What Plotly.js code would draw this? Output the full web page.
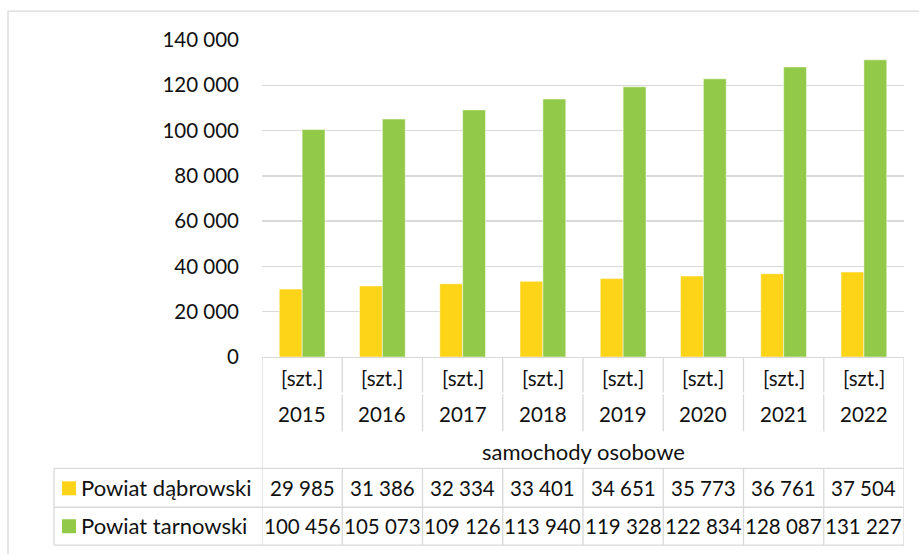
<!DOCTYPE html>
<html>
<head>
<meta charset="utf-8">
<script src="https://cdn.plot.ly/plotly-3.0.1.min.js"></script>
<style>html,body{margin:0;padding:0;background:#fff;}#chart{width:919px;height:554px;}</style>
</head>
<body>
<div id="chart"></div>
<script>
// ---- data ----
var years = ['2015','2016','2017','2018','2019','2020','2021','2022'];
var unitLabel = '[szt.]';
var groupLabel = 'samochody osobowe';
var seriesNames = ['Powiat dąbrowski', 'Powiat tarnowski'];
var dabrowski = [29985, 31386, 32334, 33401, 34651, 35773, 36761, 37504];
var tarnowski = [100456, 105073, 109126, 113940, 119328, 122834, 128087, 131227];
var yTicks = [0, 20000, 40000, 60000, 80000, 100000, 120000, 140000];

// ---- style / geometry ----
var W = 919, H = 554;
var L = 262, R = 904, T = 40, B = 357.5;
var PW = R - L, PH = B - T;
var colors = ['#FED419', '#93C948'];
var grid = '#D9D9D9';
var txt = '#111111';
var FONT = 'Lato, "Noto Sans", sans-serif';
var FS = 20.5;   // numbers
var FSW = 22;    // words

function px(x) { return (x - L) / PW; }
function py(y) { return (B - y) / PH; }
function fmt(v) { return String(v).replace(/\B(?=(\d{3})+(?!\d))/g, ' '); }

var n = years.length;
var traces = [
  {type:'bar', x: years, y: dabrowski, name: seriesNames[0],
   marker:{color: colors[0], line:{color:'rgba(255,255,255,0.6)', width:0.8}}},
  {type:'bar', x: years, y: tarnowski, name: seriesNames[1],
   marker:{color: colors[1], line:{color:'rgba(255,255,255,0.6)', width:0.8}}}
];

var shapes = [];
var ann = [];
var lineStyle = {color: grid, width: 1.3};

// outer chart border
shapes.push({type:'rect', xref:'paper', yref:'paper', x0: px(8), x1: px(W + 5), y0: py(11), y1: py(H + 5),
  line:{color: grid, width: 1.3}, fillcolor:'rgba(0,0,0,0)', layer:'below'});

// table vertical lines
for (var i = 0; i <= n; i++) {
  var xv = i - 0.5;
  var outer = (i === 0 || i === n);
  if (outer) {
    shapes.push({type:'line', xref:'x', yref:'paper', x0: xv, x1: xv, y0: py(B), y1: py(546), line: lineStyle});
  } else {
    shapes.push({type:'line', xref:'x', yref:'paper', x0: xv, x1: xv, y0: py(B), y1: py(393), line: lineStyle});
    shapes.push({type:'line', xref:'x', yref:'paper', x0: xv, x1: xv, y0: py(395), y1: py(432), line: lineStyle});
    shapes.push({type:'line', xref:'x', yref:'paper', x0: xv, x1: xv, y0: py(469), y1: py(546), line: lineStyle});
  }
}
// table horizontal lines
[469, 508, 546].forEach(function (yy) {
  shapes.push({type:'line', xref:'paper', yref:'paper', x0: px(54), x1: 1, y0: py(yy), y1: py(yy), line: lineStyle});
});
shapes.push({type:'line', xref:'paper', yref:'paper', x0: px(54), x1: px(54), y0: py(469), y1: py(546), line: lineStyle});

// header annotations
years.forEach(function (yr, i) {
  ann.push({xref:'x', yref:'paper', x: i, y: py(379), text: unitLabel, showarrow:false,
    font:{family: FONT, size: FS, color: txt}, xanchor:'center', yanchor:'middle'});
  ann.push({xref:'x', yref:'paper', x: i, y: py(415), text: yr, showarrow:false,
    font:{family: FONT, size: FS, color: txt}, xanchor:'center', yanchor:'middle'});
});
ann.push({xref:'x', yref:'paper', x: (n - 1) / 2, y: py(452), text: groupLabel, showarrow:false,
  font:{family: FONT, size: FSW, color: txt}, xanchor:'center', yanchor:'middle'});

// data rows
var rows = [dabrowski, tarnowski];
var rowY = [489, 527];
rows.forEach(function (vals, r) {
  vals.forEach(function (v, i) {
    ann.push({xref:'x', yref:'paper', x: i, y: py(rowY[r]), text: fmt(v), showarrow:false,
      font:{family: FONT, size: FS, color: txt}, xanchor:'center', yanchor:'middle'});
  });
  // legend key
  shapes.push({type:'rect', xref:'paper', yref:'paper', x0: px(62), x1: px(76),
    y0: py(rowY[r] - 7), y1: py(rowY[r] + 7), fillcolor: colors[r], line:{width:0}});
  ann.push({xref:'paper', yref:'paper', x: px(79), y: py(rowY[r] - 0.5), text: seriesNames[r], showarrow:false,
    font:{family: FONT, size: FSW, color: txt}, xanchor:'left', yanchor:'middle'});
});

var layout = {
  width: W, height: H,
  margin: {l: L, r: W - R, t: T, b: H - B, pad: 0},
  paper_bgcolor: '#fff', plot_bgcolor: '#fff',
  showlegend: false,
  barmode: 'group', bargap: 0.43, bargroupgap: 0,
  separators: ', ',
  font: {family: FONT, size: FS, color: txt},
  xaxis: {type:'category', categoryorder:'array', categoryarray: years, showticklabels: false,
    showgrid: false, zeroline: false, showline: true, linecolor: grid, linewidth: 1.3,
    range: [-0.5, n - 0.5], fixedrange: true},
  yaxis: {range: [0, 140000], tickvals: yTicks, tickformat: ',d', showgrid: true, gridcolor: grid, gridwidth: 1.3,
    zeroline: false, showline: false, ticks: '', ticklabelstandoff: 22,
    tickfont: {family: FONT, size: FS, color: txt}, fixedrange: true},
  shapes: shapes,
  annotations: ann
};

Plotly.newPlot('chart', traces, layout, {displayModeBar: false, staticPlot: true});
</script>
</body>
</html>
